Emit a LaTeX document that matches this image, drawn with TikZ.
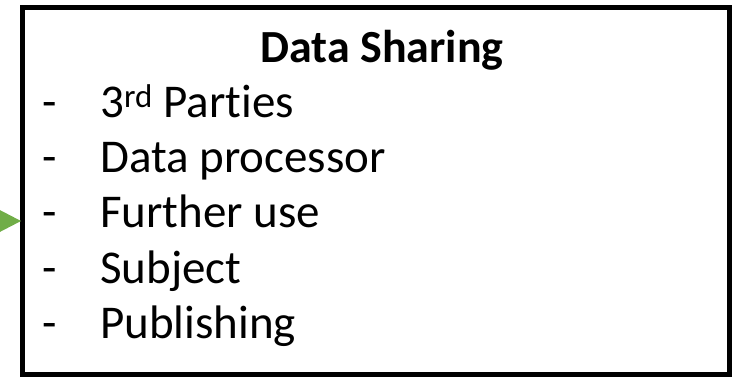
\documentclass[tikz,border=0pt]{standalone}
\usepackage{fontspec}
\setmainfont[Ligatures=NoCommon]{Carlito}
\definecolor{arrowgreen}{HTML}{70AD47}
\tikzset{
  listitem/.style={anchor=base west, inner sep=0pt, font=\fontsize{47}{56}\selectfont},
  dashitem/.style={anchor=base west, inner sep=0pt, font=\fontsize{47}{56}\selectfont},
  titletext/.style={anchor=base, inner sep=0pt, font=\fontsize{46}{55}\selectfont\bfseries},
  frame/.style={draw=black, line width=5pt}
}
\begin{document}
\begin{tikzpicture}[x=1pt,y=-1pt]
\useasboundingbox (0,0) rectangle (742,376);
\clip (0,0) rectangle (742,376);
\draw[frame] (22,7.5) rectangle (729.5,374);
\fill[arrowgreen] (-6,207) -- (21,221) -- (-6,235) -- cycle;
\node[titletext] (title) at (382,62) {Data Sharing};
\foreach \y/\t [count=\i] in {117/{3\textsuperscript{rd} Parties},172/{Data processor},227.5/{Further use},283/{Subject},338/{Publishing}}{
  \node[dashitem] (d\i) at (42,\y) {-};
  \node[listitem] (l\i) at (100,\y) {\t};
}
\end{tikzpicture}
\end{document}
